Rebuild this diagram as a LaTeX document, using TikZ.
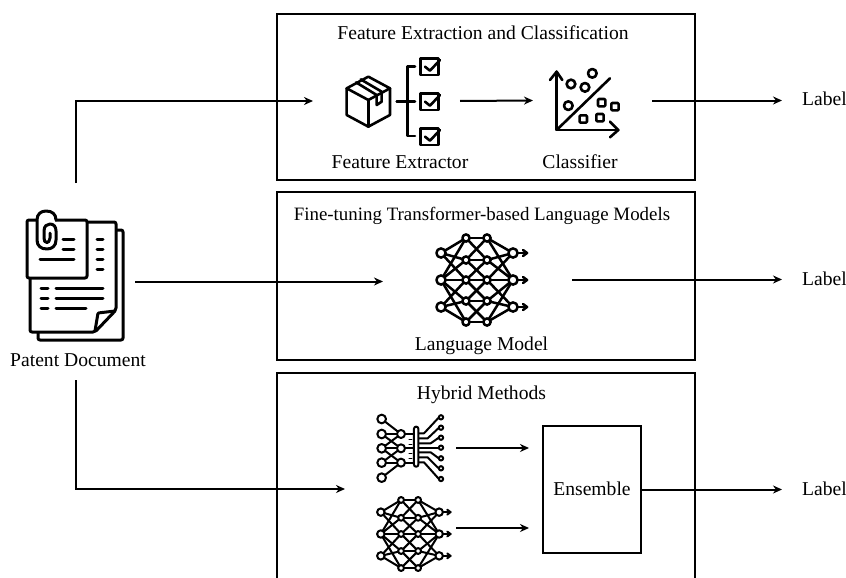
\documentclass[tikz,border=0pt]{standalone}
\usepackage{fontspec}
\setmainfont{Liberation Serif}
\usetikzlibrary{arrows.meta,calc}
\tikzset{
  panel/.style={draw=black,line width=2pt,fill=none,inner sep=0pt,minimum width=418pt},
  ghost/.style={inner sep=0pt,outer sep=0pt,draw=none},
  txt/.style={inner sep=0pt,anchor=base,font=\fontsize{19.6pt}{22pt}\selectfont},
  link/.style={line width=2pt,-{Stealth[length=9pt,width=8pt]}},
  ico/.style={line width=3pt,line cap=round,line join=round},
  thin ico/.style={line width=2.6pt,line cap=round,line join=round},
}
% network icon: #1 centre x, #2 centre y, #3 scale
\newcommand{\netIcon}[3]{%
  \begin{scope}[shift={(#1,#2)},x=#3pt,y=-#3pt,line join=round,line cap=round,line width=#3*2.5pt]
    \foreach \a in {-27,0,27}{\foreach \b in {-42,-20,0,21,42}{
      \pgfmathparse{abs(\a-\b)<46?1:0}\ifnum\pgfmathresult=1
        \draw (-36,\a) -- (-11,\b); \draw (36,\a) -- (10,\b); \fi}}
    \foreach \a in {-42,-20,0,21,42}{\foreach \b in {-42,-20,0,21,42}{
      \pgfmathparse{abs(\a-\b)<24?1:0}\ifnum\pgfmathresult=1 \draw (-11,\a) -- (10,\b);\fi}}
    \foreach \a in {-27,0,27}{
      \draw (36,\a) -- (50,\a);
      \draw (46,\a-3) -- (50,\a) -- (46,\a+3);
      \draw[fill=white] (-36,\a) circle[radius=4.6];
      \draw[fill=white] (36,\a) circle[radius=4.6];}
    \foreach \b in {-42,-20,0,21,42}{
      \draw[fill=white] (-11,\b) circle[radius=3.6];
      \draw[fill=white] (10,\b) circle[radius=3.6];}
  \end{scope}}
\begin{document}
\begin{tikzpicture}[x=1pt,y=-1pt]
\useasboundingbox (0,0) rectangle (846,578);
\clip (0,0) rectangle (846,578);
\fill[white] (0,0) rectangle (846,578);

% panels
\node[panel,minimum height=166pt] (boxA) at (486,97) {};
\node[panel,minimum height=168pt] (boxB) at (486,276) {};
\node[panel,minimum height=230pt] (boxC) at (486,488) {};
\node[panel,minimum width=98pt,minimum height=127pt] (ens) at (592,489.5) {};
\node[txt] at (592,495.5) {Ensemble};

% titles and captions
\node[txt] (t1) at (483,39.5) {Feature Extraction and Classification};
\node[txt,font=\fontsize{18.9pt}{22pt}\selectfont] (t2) at (482,220) {Fine-tuning Transformer-based Language Models};
\node[txt] (t3) at (481.5,399) {Hybrid Methods};
\node[txt] (c1) at (400,168.5) {Feature Extractor};
\node[txt] (c2) at (580,168.5) {Classifier};
\node[txt] (c3) at (481.5,350) {Language Model};
\node[txt] (c4) at (78,366) {Patent Document};
\node[txt,anchor=base west] (l1) at (802,105.5) {Label};
\node[txt,anchor=base west] (l2) at (802,285) {Label};
\node[txt,anchor=base west] (l3) at (802,495) {Label};

% invisible holders of the icons
\node[ghost,minimum width=118pt,minimum height=197pt] (doc) at (76,281.5) {};
\node[ghost,minimum width=147pt,minimum height=90pt] (feat) at (386.5,101) {};
\node[ghost,minimum width=119pt,minimum height=90pt] (cls) at (592.5,100.5) {};
\node[ghost,minimum width=189pt,minimum height=90pt] (lang) at (477.5,279.5) {};
\node[ghost,minimum width=111pt,minimum height=70pt] (hyb1) at (400.5,448) {};
\node[ghost,minimum width=111pt,minimum height=70pt] (hyb2) at (400.5,528) {};
\node[ghost,minimum width=2pt,minimum height=2pt] (hybin) at (346,489) {};

% connectors
\draw[link] (doc.north) |- (feat.west);
\draw[link] (doc.east) -- (doc.east -| lang.west);
\draw[link] (doc.south) |- (hybin.west);
\draw[link] (feat.east) -- (cls.west);
\draw[link,shorten >=20pt] (cls.east) -- (cls.east -| l1.west);
\draw[link,shorten >=20pt] (lang.east) -- (lang.east -| l2.west);
\draw[link,shorten >=20pt] (ens.east) -- (ens.east -| l3.west);
\draw[link,shorten >=13pt] (hyb1.east) -- (hyb1.east -| ens.west);
\draw[link,shorten >=13pt] (hyb2.east) -- (hyb2.east -| ens.west);

% ---- patent document icon
\begin{scope}[ico]
 \draw[fill=white,rounded corners=2pt] (116,230) -- (123,230) -- (123,340) -- (38,340) -- (38,332);
 \draw[fill=white,rounded corners=2pt] (80,222) -- (116,222) -- (116,310) -- (95,332) -- (30,332) -- (30,270);
 \draw[rounded corners=1pt] (115,311) -- (98,313) -- (95,331);
 \draw[fill=white,rounded corners=2pt] (27,220) rectangle (87,278);
 \draw[fill=white,draw=none] (38,216) rectangle (55,222);
 \draw (50,233) -- (50,238) .. controls (50,241) and (48,242.5) .. (47,242.5) .. controls (45,242.5) and (44,241) .. (44,238) -- (44,231) .. controls (44,226) and (47,224) .. (50,224) .. controls (54,224) and (56,227) .. (56,231) -- (56,240) .. controls (56,246) and (52,249) .. (47,249) .. controls (41,249) and (37,246) .. (37,240) -- (37,220) .. controls (37,214) and (41,211) .. (46,211) .. controls (52,211) and (56,214) .. (56,220);
 \draw (63,239) -- (74,239);
 \draw (63,249) -- (74,249);
 \draw (40,259.5) -- (74,259.5);
 \foreach \y in {239,249,259.5,269.5}{\draw (97,\y) -- (103,\y);}
 \foreach \y in {288,298,308}{\draw (41,\y) -- (48,\y);}
 \draw (56,288) -- (103,288);
 \draw (56,298) -- (103,298);
 \draw (56,308) -- (86,308);
\end{scope}

% ---- box with feature checklist
\begin{scope}[shift={(330,50)},x=0.3333pt,y=-0.3333pt,thin ico]
 \draw (115,80) -- (50,115) -- (115,150) -- (180,115) -- cycle;
 \draw (50,115) -- (50,195) -- (115,230) -- (180,195) -- (180,115);
 \draw (115,150) -- (115,230);
 \draw (78,97) -- (140,135) -- (140,165) -- (155,155) -- (155,125) -- (92,88);
 \draw (200,155) -- (255,155);
 \draw (255,50) -- (232,50) -- (232,258) -- (255,258);
 \foreach \y in {25,130,235}{
   \draw (272,\y) rectangle (325,\y+50);
   \draw (285,\y+25) -- (300,\y+37) -- (330,\y+5);}
\end{scope}

% ---- classifier plot
\begin{scope}[shift={(330,50)},x=0.3333pt,y=-0.3333pt,thin ico]
 \draw (660,90) -- (680,65) -- (697,90);
 \draw (680,65) -- (680,240) -- (865,240);
 \draw (840,215) -- (865,240) -- (840,262);
 \draw (680,240) -- (840,85);
 \foreach \p/\q in {723/102,765/112,787/70,715/167}{\draw (\p,\q) circle[radius=13];}
 \foreach \p/\q in {815/158,855/170,760/207,810/203}{
   \draw[rounded corners=1pt] (\p-11,\q-11) rectangle (\p+11,\q+11);}
\end{scope}

% ---- networks
\netIcon{477}{280}{1}
\netIcon{410}{534}{0.81}

% ---- feature map icon
\begin{scope}[shift={(360,405)},x=0.3333pt,y=-0.3333pt,line width=2pt,line cap=round,line join=round]
 \foreach \a/\b in {42/87,87/87,87/130,130/87,130/130,130/173,173/130,173/173,218/173}{
   \draw (65,\a) -- (123,\b);}
 \foreach \a in {87,130,173}{\draw (123,\a) -- (162,\a);}
 \foreach \a in {42,87,130,173,218}{\draw[fill=white] (65,\a) circle[radius=13];}
 \foreach \a in {87,130,173}{\draw[fill=white] (123,\a) circle[radius=12];}
 \foreach \a in {103,117,147,161}{\draw[line width=1pt] (147,\a) -- (156,\a);}
 \draw (175,85) -- (192,85) -- (235,39);
 \draw (175,100) -- (203,100) -- (235,70);
 \draw (175,115) -- (212,115) -- (235,99);
 \draw (175,128) -- (235,128);
 \draw (175,142) -- (212,142) -- (235,159);
 \draw (175,157) -- (203,157) -- (235,189);
 \draw (175,172) -- (192,172) -- (235,220);
 \draw[fill=white,rounded corners=2pt] (162,65) rectangle (175,185);
 \foreach \a in {37,68,98,128,160,190,222}{\draw[fill=white] (243,\a) circle[radius=6.5];}
\end{scope}
\end{tikzpicture}
\end{document}
